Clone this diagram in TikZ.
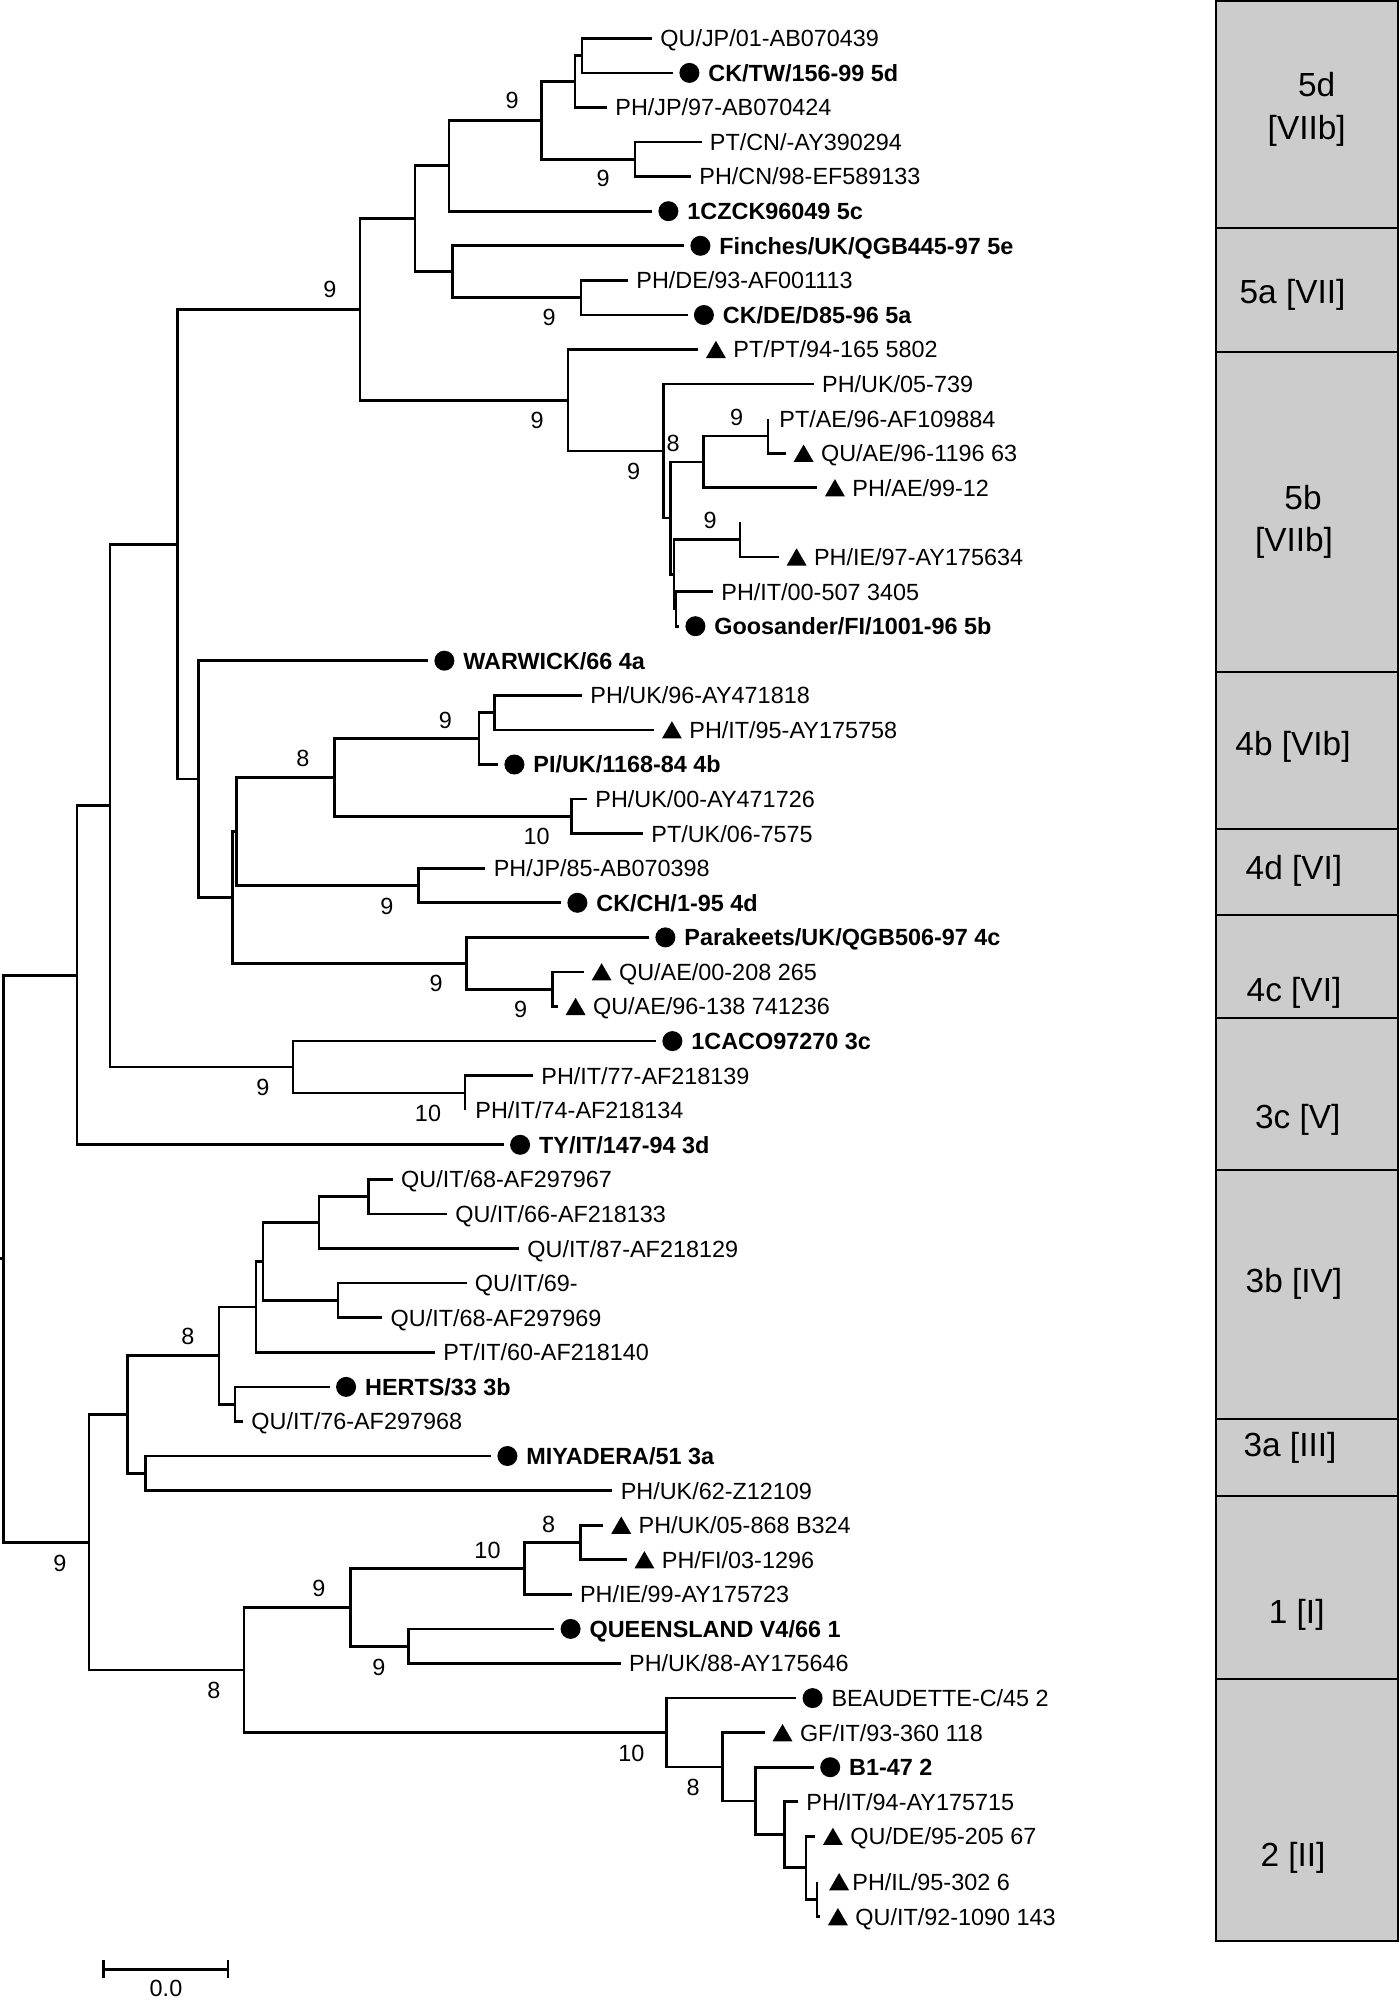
\documentclass[tikz,border=0pt]{standalone}
\usepackage{fontspec}
\setmainfont{Liberation Sans}
\usetikzlibrary{positioning,shapes.geometric}

\begin{document}
\begin{tikzpicture}[x=0.5pt, y=-0.5pt,
  br/.style={line width=1.35pt},
  lab/.style={inner sep=0pt, font=\fontsize{11.7}{14}\selectfont, text height=8.4pt, text depth=0pt},
  blab/.style={lab, font=\fontsize{11.7}{14}\selectfont\bfseries},
  bs/.style={lab},
  dot/.style={circle, fill=black, inner sep=0pt, minimum size=10pt},
  tri/.style={regular polygon, regular polygon sides=3, fill=black, inner sep=0pt, minimum size=11.5pt, yshift=-1.4pt},
  band/.style={draw=black, line width=1pt, fill=black!20},
  clade/.style={inner sep=0pt, font=\fontsize{16.7}{20}\selectfont, text height=12pt, text depth=0pt}]
\useasboundingbox (0,0) rectangle (1400,2000);
% tips
\coordinate (t1) at (652,38.3);     \coordinate (t2) at (673,72.9);
\coordinate (t3) at (607,107.5);    \coordinate (t4) at (701.5,142.0);
\coordinate (t5) at (691,176.6);    \coordinate (t6) at (652,211.2);
\coordinate (t7) at (684,245.8);    \coordinate (t8) at (628,280.4);
\coordinate (t9) at (687.5,315.0);  \coordinate (t10) at (698,349.5);
\coordinate (t11) at (813.8,384.1); \coordinate (t12) at (768,418.7);
\coordinate (t13) at (785.7,453.3); \coordinate (t14) at (817,487.8);
\coordinate (t15) at (740,522.4);   \coordinate (t16) at (778.7,557.0);
\coordinate (t17) at (713,591.6);   \coordinate (t18) at (679,626.2);
\coordinate (t19) at (428,660.7);   \coordinate (t20) at (582,695.3);
\coordinate (t21) at (654,729.9);   \coordinate (t22) at (498,764.5);
\coordinate (t23) at (587,799.1);   \coordinate (t24) at (643,833.6);
\coordinate (t25) at (485.4,868.2); \coordinate (t26) at (561,902.8);
\coordinate (t27) at (649,937.4);   \coordinate (t28) at (583.7,971.9);
\coordinate (t29) at (557.7,1006.5);\coordinate (t30) at (656,1041.1);
\coordinate (t31) at (533,1075.7);  \coordinate (t32) at (465,1110.3);
\coordinate (t33) at (503.7,1144.8);\coordinate (t34) at (392.8,1179.4);
\coordinate (t35) at (446.9,1214.0);\coordinate (t36) at (519,1248.6);
\coordinate (t37) at (466.5,1283.1);\coordinate (t38) at (382.3,1317.7);
\coordinate (t39) at (435,1352.3);  \coordinate (t40) at (329.7,1386.9);
\coordinate (t41) at (243,1421.5);  \coordinate (t42) at (491,1456.0);
\coordinate (t43) at (612.4,1490.6);\coordinate (t44) at (603.3,1525.2);
\coordinate (t45) at (626.5,1559.8);\coordinate (t46) at (571.7,1594.3);
\coordinate (t47) at (554.2,1628.9);\coordinate (t48) at (620.8,1663.5);
\coordinate (t49) at (796.2,1698.1);\coordinate (t50) at (764.6,1732.7);
\coordinate (t51) at (813.8,1767.2);\coordinate (t52) at (798,1801.8);
\coordinate (t53) at (815,1836.4);  \coordinate (t54) at (817,1881.7);
\coordinate (t55) at (820,1916.7);
% inner nodes
\coordinate (nA) at (582,55.6);     \coordinate (nB) at (575,81.55);
\coordinate (nD) at (635,159.3);    \coordinate (nC) at (541.6,120.43);
\coordinate (nE) at (449,165.8);    \coordinate (nH) at (581,297.7);
\coordinate (nG) at (452.5,271.75); \coordinate (nF) at (415,218.8);
\coordinate (nQ) at (768,436.0);    \coordinate (nM) at (703.3,461.9);
\coordinate (nR) at (740,539.7);    \coordinate (nO) at (676,608.9);
\coordinate (nP) at (674,574.3);    \coordinate (nN) at (670.7,518.1);
\coordinate (nL) at (663.5,451.1);  \coordinate (nK) at (568,400.3);
\coordinate (nI) at (360,309.55);   \coordinate (nV) at (494.6,712.6);
\coordinate (nW) at (479,738.55);   \coordinate (nY) at (571.7,816.35);
\coordinate (nX) at (334.6,777.45); \coordinate (nAA) at (418.8,885.5);
\coordinate (nZa) at (236.4,831.5); \coordinate (nAC) at (552.8,989.2);
\coordinate (nAB) at (466.5,963.3); \coordinate (nZ) at (232.5,897.4);
\coordinate (nU) at (198.5,779.05); \coordinate (nJ) at (177.5,544.3);
\coordinate (nAE) at (465,1093.0);  \coordinate (nAD) at (293,1067.05);
\coordinate (nS) at (110,805.7);    \coordinate (nT) at (77,975.25);
\coordinate (nBH) at (368.3,1196.7);\coordinate (nBF) at (319,1222.65);
\coordinate (nBG) at (338,1300.4);  \coordinate (nBE) at (263,1261.5);
\coordinate (nBD) at (256,1306.9);  \coordinate (nBI) at (235,1404.2);
\coordinate (nBC) at (219,1355.55); \coordinate (nBJ) at (145.2,1473.3);
\coordinate (nBB) at (127.7,1414.4);\coordinate (nBN) at (580.8,1542.5);
\coordinate (nBM) at (524.7,1568.4);\coordinate (nBO) at (408.3,1646.2);
\coordinate (nBL) at (350.8,1607.3);\coordinate (nBU) at (817,1899.2);
\coordinate (nBT) at (806,1867.8);  \coordinate (nBS) at (784.3,1834.8);
\coordinate (nBR) at (755.5,1801.0);\coordinate (nBQ) at (722.6,1766.85);
\coordinate (nBP) at (666.4,1732.5);\coordinate (nBK) at (244,1669.9);
\coordinate (nBA) at (89,1542.15);  \coordinate (root) at (3.5,1258.7);
\coordinate (rs) at (0,1258.7);
% branches
\draw[br] (nA) |- (t1) (nA) |- (t2);
\draw[br] (nB) |- (nA) (nB) |- (t3);
\draw[br] (nD) |- (t4) (nD) |- (t5);
\draw[br] (nC) |- (nB) (nC) |- (nD);
\draw[br] (nE) |- (nC) (nE) |- (t6);
\draw[br] (nH) |- (t8) (nH) |- (t9);
\draw[br] (nG) |- (t7) (nG) |- (nH);
\draw[br] (nF) |- (nE) (nF) |- (nG);
\draw[br] (nQ) |- (t12) (nQ) |- (t13);
\draw[br] (nM) |- (nQ) (nM) |- (t14);
\draw[br] (nR) |- (t15) (nR) |- (t16);
\draw[br] (nO) |- (t17) (nO) |- (t18);
\draw[br] (nP) |- (nR) (nP) |- (nO);
\draw[br] (nN) |- (nM) (nN) |- (nP);
\draw[br] (nL) |- (t11) (nL) |- (nN);
\draw[br] (nK) |- (t10) (nK) |- (nL);
\draw[br] (nI) |- (nF) (nI) |- (nK);
\draw[br] (nV) |- (t20) (nV) |- (t21);
\draw[br] (nW) |- (nV) (nW) |- (t22);
\draw[br] (nY) |- (t23) (nY) |- (t24);
\draw[br] (nX) |- (nW) (nX) |- (nY);
\draw[br] (nAA) |- (t25) (nAA) |- (t26);
\draw[br] (nZa) |- (nX) (nZa) |- (nAA);
\draw[br] (nAC) |- (t28) (nAC) |- (t29);
\draw[br] (nAB) |- (t27) (nAB) |- (nAC);
\draw[br] (nZ) |- (nZa) (nZ) |- (nAB);
\draw[br] (nU) |- (t19) (nU) |- (nZ);
\draw[br] (nJ) |- (nI) (nJ) |- (nU);
\draw[br] (nAE) |- (t31) (nAE) |- (t32);
\draw[br] (nAD) |- (t30) (nAD) |- (nAE);
\draw[br] (nS) |- (nJ) (nS) |- (nAD);
\draw[br] (nT) |- (nS) (nT) |- (t33);
\draw[br] (nBH) |- (t34) (nBH) |- (t35);
\draw[br] (nBF) |- (nBH) (nBF) |- (t36);
\draw[br] (nBG) |- (t37) (nBG) |- (t38);
\draw[br] (nBE) |- (nBF) (nBE) |- (nBG);
\draw[br] (nBD) |- (nBE) (nBD) |- (t39);
\draw[br] (nBI) |- (t40) (nBI) |- (t41);
\draw[br] (nBC) |- (nBD) (nBC) |- (nBI);
\draw[br] (nBJ) |- (t42) (nBJ) |- (t43);
\draw[br] (nBB) |- (nBC) (nBB) |- (nBJ);
\draw[br] (nBN) |- (t44) (nBN) |- (t45);
\draw[br] (nBM) |- (nBN) (nBM) |- (t46);
\draw[br] (nBO) |- (t47) (nBO) |- (t48);
\draw[br] (nBL) |- (nBM) (nBL) |- (nBO);
\draw[br] (nBU) |- (t54) (nBU) |- (t55);
\draw[br] (nBT) |- (t53) (nBT) |- (nBU);
\draw[br] (nBS) |- (t52) (nBS) |- (nBT);
\draw[br] (nBR) |- (t51) (nBR) |- (nBS);
\draw[br] (nBQ) |- (t50) (nBQ) |- (nBR);
\draw[br] (nBP) |- (t49) (nBP) |- (nBQ);
\draw[br] (nBK) |- (nBL) (nBK) |- (nBP);
\draw[br] (nBA) |- (nBB) (nBA) |- (nBK);
\draw[br] (root) |- (nT) (root) |- (nBA);
\draw[br] (rs) -- (root);
% tip labels
\node[lab, right=4pt of t1] (L1) {QU/JP/01-AB070439};
\node[dot, right=3pt of t2] (m2) {};
\node[blab, right=17.5pt of t2] (L2) {CK/TW/156-99 5d};
\node[lab, right=4pt of t3] (L3) {PH/JP/97-AB070424};
\node[lab, right=4pt of t4] (L4) {PT/CN/-AY390294};
\node[lab, right=4pt of t5] (L5) {PH/CN/98-EF589133};
\node[dot, right=3pt of t6] (m6) {};
\node[blab, right=17.5pt of t6] (L6) {1CZCK96049 5c};
\node[dot, right=3pt of t7] (m7) {};
\node[blab, right=17.5pt of t7] (L7) {Finches/UK/QGB445-97 5e};
\node[lab, right=4pt of t8] (L8) {PH/DE/93-AF001113};
\node[dot, right=3pt of t9] (m9) {};
\node[blab, right=17.5pt of t9] (L9) {CK/DE/D85-96 5a};
\node[tri, right=5.4pt of t10] (m10) {};
\node[lab, right=17.5pt of t10] (L10) {PT/PT/94-165 5802};
\node[lab, right=4pt of t11] (L11) {PH/UK/05-739};
\node[lab, right=5.5pt of t12] (L12) {PT/AE/96-AF109884};
\node[tri, right=5.4pt of t13] (m13) {};
\node[lab, right=17.5pt of t13] (L13) {QU/AE/96-1196 63};
\node[tri, right=5.4pt of t14] (m14) {};
\node[lab, right=17.5pt of t14] (L14) {PH/AE/99-12};
\node[tri, right=5.4pt of t16] (m16) {};
\node[lab, right=17.5pt of t16] (L16) {PH/IE/97-AY175634};
\node[lab, right=4pt of t17] (L17) {PH/IT/00-507 3405};
\node[dot, right=3pt of t18] (m18) {};
\node[blab, right=17.5pt of t18] (L18) {Goosander/FI/1001-96 5b};
\node[dot, right=3pt of t19] (m19) {};
\node[blab, right=17.5pt of t19] (L19) {WARWICK/66 4a};
\node[lab, right=4pt of t20] (L20) {PH/UK/96-AY471818};
\node[tri, right=5.4pt of t21] (m21) {};
\node[lab, right=17.5pt of t21] (L21) {PH/IT/95-AY175758};
\node[dot, right=3pt of t22] (m22) {};
\node[blab, right=17.5pt of t22] (L22) {PI/UK/1168-84 4b};
\node[lab, right=4pt of t23] (L23) {PH/UK/00-AY471726};
\node[lab, right=4pt of t24] (L24) {PT/UK/06-7575};
\node[lab, right=4pt of t25] (L25) {PH/JP/85-AB070398};
\node[dot, right=3pt of t26] (m26) {};
\node[blab, right=17.5pt of t26] (L26) {CK/CH/1-95 4d};
\node[dot, right=3pt of t27] (m27) {};
\node[blab, right=17.5pt of t27] (L27) {Parakeets/UK/QGB506-97 4c};
\node[tri, right=5.4pt of t28] (m28) {};
\node[lab, right=17.5pt of t28] (L28) {QU/AE/00-208 265};
\node[tri, right=5.4pt of t29] (m29) {};
\node[lab, right=17.5pt of t29] (L29) {QU/AE/96-138 741236};
\node[dot, right=3pt of t30] (m30) {};
\node[blab, right=17.5pt of t30] (L30) {1CACO97270 3c};
\node[lab, right=4pt of t31] (L31) {PH/IT/77-AF218139};
\node[lab, right=5pt of t32] (L32) {PH/IT/74-AF218134};
\node[dot, right=3pt of t33] (m33) {};
\node[blab, right=17.5pt of t33] (L33) {TY/IT/147-94 3d};
\node[lab, right=4pt of t34] (L34) {QU/IT/68-AF297967};
\node[lab, right=4pt of t35] (L35) {QU/IT/66-AF218133};
\node[lab, right=4pt of t36] (L36) {QU/IT/87-AF218129};
\node[lab, right=4pt of t37] (L37) {QU/IT/69-};
\node[lab, right=4pt of t38] (L38) {QU/IT/68-AF297969};
\node[lab, right=4pt of t39] (L39) {PT/IT/60-AF218140};
\node[dot, right=3pt of t40] (m40) {};
\node[blab, right=17.5pt of t40] (L40) {HERTS/33 3b};
\node[lab, right=4pt of t41] (L41) {QU/IT/76-AF297968};
\node[dot, right=3pt of t42] (m42) {};
\node[blab, right=17.5pt of t42] (L42) {MIYADERA/51 3a};
\node[lab, right=4pt of t43] (L43) {PH/UK/62-Z12109};
\node[tri, right=5.4pt of t44] (m44) {};
\node[lab, right=17.5pt of t44] (L44) {PH/UK/05-868 B324};
\node[tri, right=5.4pt of t45] (m45) {};
\node[lab, right=17.5pt of t45] (L45) {PH/FI/03-1296};
\node[lab, right=4pt of t46] (L46) {PH/IE/99-AY175723};
\node[dot, right=3pt of t47] (m47) {};
\node[blab, right=17.5pt of t47] (L47) {QUEENSLAND V4/66 1};
\node[lab, right=4pt of t48] (L48) {PH/UK/88-AY175646};
\node[dot, right=3pt of t49] (m49) {};
\node[lab, right=17.5pt of t49] (L49) {BEAUDETTE-C/45 2};
\node[tri, right=5.4pt of t50] (m50) {};
\node[lab, right=17.5pt of t50] (L50) {GF/IT/93-360 118};
\node[dot, right=3pt of t51] (m51) {};
\node[blab, right=17.5pt of t51] (L51) {B1-47 2};
\node[lab, right=4pt of t52] (L52) {PH/IT/94-AY175715};
\node[tri, right=5.4pt of t53] (m53) {};
\node[lab, right=17.5pt of t53] (L53) {QU/DE/95-205 67};
\node[tri, right=7.5pt of t54] (m54) {};
\node[lab, right=17.5pt of t54] (L54) {PH/IL/95-302 6};
\node[tri, right=5.4pt of t55] (m55) {};
\node[lab, right=17.5pt of t55] (L55) {QU/IT/92-1090 143};
% bootstrap values
\node[bs] (b1) at (512,100) {9};
\node[bs] (b2) at (603,178) {9};
\node[bs] (b3) at (330,289) {9};
\node[bs] (b4) at (549,317) {9};
\node[bs] (b5) at (537,420) {9};
\node[bs] (b6) at (736.6,416.7) {9};
\node[bs] (b7) at (673,443) {8};
\node[bs] (b8) at (633.5,471) {9};
\node[bs] (b9) at (710,520) {9};
\node[bs] (b10) at (445.5,720) {9};
\node[bs] (b11) at (303,758) {8};
\node[bs] (b12) at (536.6,836) {10};
\node[bs] (b13) at (387,906) {9};
\node[bs] (b14) at (436,982.7) {9};
\node[bs] (b15) at (520.5,1009.3) {9};
\node[bs] (b16) at (263,1087.3) {9};
\node[bs] (b17) at (428,1113) {10};
\node[bs] (b18) at (188,1336) {8};
\node[bs] (b19) at (60,1563) {9};
\node[bs] (b20) at (548.6,1524) {8};
\node[bs] (b21) at (487.5,1550) {10};
\node[bs] (b22) at (319,1588.3) {9};
\node[bs] (b23) at (378.8,1666.7) {9};
\node[bs] (b24) at (214,1690) {8};
\node[bs] (b25) at (631.4,1753.3) {10};
\node[bs] (b26) at (693,1787.3) {8};
% scale bar
\coordinate (sbL) at (103.8,1969.3);
\coordinate (sbR) at (228,1969.3);
\draw[br] (sbL) -- (sbR);
\draw[br] (103.8,1960) -- (103.8,1978.3);
\draw[br] (228,1960) -- (228,1978.3);
\node[bs] (sb) at (166,1988) {0.0};
% genotype column
\foreach \a/\b in {1.5/227.7, 227.7/352, 352/671.6, 671.6/829, 829/915, 915/1017.9,
                   1017.9/1169.6, 1169.6/1419, 1419/1495.5, 1495.5/1679.2, 1679.2/1940.7}
  \draw[band] (1216,\a) rectangle (1397.5,\b);
\node[clade] (g1) at (1316.7,84.8) {5d};
\node[clade] (g1b) at (1306.7,127.6) {[VIIb]};
\node[clade] (g2) at (1292.5,291.5) {5a [VII]};
\node[clade] (g3) at (1303,497.4) {5b};
\node[clade] (g3b) at (1294,539) {[VIIb]};
\node[clade] (g4) at (1293,743) {4b [VIb]};
\node[clade] (g5) at (1294,867) {4d [VI]};
\node[clade] (g6) at (1294,989) {4c [VI]};
\node[clade] (g7) at (1297.7,1116.7) {3c [V]};
\node[clade] (g8) at (1294,1280.6) {3b [IV]};
\node[clade] (g9) at (1290,1444.5) {3a [III]};
\node[clade] (g10) at (1296.7,1611) {1 [I]};
\node[clade] (g11) at (1293,1854.6) {2 [II]};
\end{tikzpicture}
\end{document}
